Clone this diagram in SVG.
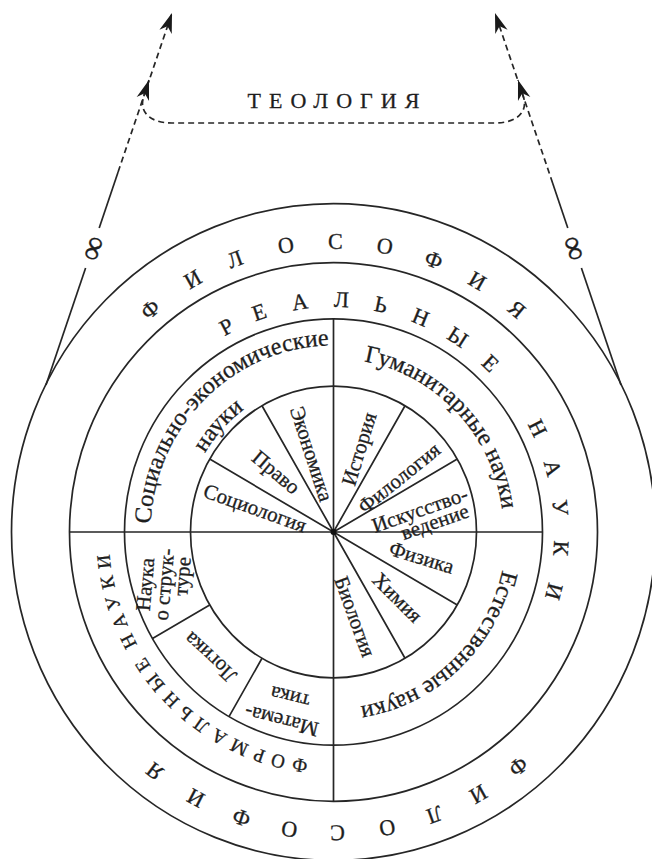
<svg xmlns="http://www.w3.org/2000/svg" width="652" height="859" viewBox="0 0 652 859">
<style>
.ln{fill:none;stroke:#262626;stroke-width:1.7}
.ds{fill:none;stroke:#262626;stroke-width:1.7;stroke-dasharray:6 4}
.t{font-family:"Liberation Serif","Times New Roman",serif;fill:#1e1e1e;stroke:#1e1e1e;stroke-width:0.3}
.cap{font-size:22px;text-anchor:middle}
.rn{font-size:22px;text-anchor:middle}
.lbl{font-size:24px;text-anchor:middle}
.in{font-size:21px;text-anchor:middle}
.inE{font-size:21px;text-anchor:end}
.fm{font-size:19px;text-anchor:middle;letter-spacing:7px;word-spacing:-5px}
</style>
<defs>
<marker id="ah" viewBox="-21 -7 22 14" refX="0" refY="0" markerWidth="22" markerHeight="14" markerUnits="userSpaceOnUse" orient="auto-start-reverse">
<path d="M0,0 L-20,-6.5 L-14,0 L-20,6.5 Z" fill="#1a1a1a"/>
</marker>
<path id="p183" d="M-183,0A183,183 0 1 1 183,0A183,183 0 1 1 -183,0"/>
<path id="p150" d="M-150,0A150,150 0 1 1 150,0A150,150 0 1 1 -150,0"/>
<path id="p170" d="M0,-170A170,170 0 1 1 0,170A170,170 0 1 1 0,-170"/>
<path id="p173" d="M173,0A173,173 0 1 1 -173,0A173,173 0 1 1 173,0"/>
<path id="p225" d="M0,225A225,225 0 1 1 0,-225A225,225 0 1 1 0,225"/>
</defs>
<rect width="652" height="859" fill="#fff"/>

<g id="connectors">
<line class="ln" x1="46" y1="385" x2="85.6" y2="268"/>
<line class="ln" x1="99.2" y1="228" x2="118.1" y2="172"/>
<line class="ds" x1="118.1" y1="172" x2="172" y2="13" marker-end="url(#ah)"/>
<line class="ln" x1="621" y1="385" x2="581.4" y2="268"/>
<line class="ln" x1="567.8" y1="228" x2="552.6" y2="183"/>
<line class="ds" x1="552.6" y1="183" x2="495" y2="13" marker-end="url(#ah)"/>
<path class="ds" d="M149,80 L143.5,97 C139,112 150,123 172,123 L495,123 C517,123 528,112 523.5,97 L518,80" marker-start="url(#ah)" marker-end="url(#ah)"/>
</g>

<g id="infinity">
<text class="t" font-size="34" text-anchor="middle" dominant-baseline="central" transform="translate(92,248) rotate(-71)">∞</text>
<text class="t" font-size="34" text-anchor="middle" dominant-baseline="central" transform="translate(575,248) rotate(71)">∞</text>
</g>

<g id="theology">
<text class="t" font-size="22" letter-spacing="8" text-anchor="middle" x="337.5" y="108">ТЕОЛОГИЯ</text>
</g>

<g id="wheel" transform="translate(333.5,532) scale(1,1.02)">
<g id="rings">
<circle class="ln" r="322"/>
<circle class="ln" r="264"/>
<circle class="ln" r="209"/>
<circle class="ln" r="143"/>
<path class="ln" d="M-264,0H0M0,0H209M0,0V-209M0,0V264"/>
<path class="ln" d="M0,0L-71.5,-123.8M0,0L-123.8,-71.5M0,0L71.5,-123.8M0,0L123.8,-71.5M0,0L123.8,71.5M0,0L71.5,123.8"/>
<path class="ln" d="M-123.8,71.5L-181,104.5M-71.5,123.8L-104.5,181"/>
<circle r="3" fill="#111"/>
</g>

<g id="philosophy" class="t cap">
<text transform="rotate(-40)" y="-277.7">Ф</text>
<text transform="rotate(-29.6)" y="-277.7">И</text>
<text transform="rotate(-20.2)" y="-277.7">Л</text>
<text transform="rotate(-9.6)" y="-277.7">О</text>
<text transform="rotate(0.4)" y="-277.7">С</text>
<text transform="rotate(10.4)" y="-277.7">О</text>
<text transform="rotate(20.6)" y="-277.7">Ф</text>
<text transform="rotate(30.3)" y="-277.7">И</text>
<text transform="rotate(40)" y="-277.7">Я</text>
<text transform="rotate(141.2)" y="-287.7">Ф</text>
<text transform="rotate(150.6)" y="-287.7">И</text>
<text transform="rotate(160)" y="-287.7">Л</text>
<text transform="rotate(169.5)" y="-287.7">О</text>
<text transform="rotate(179.2)" y="-287.7">С</text>
<text transform="rotate(188.6)" y="-287.7">О</text>
<text transform="rotate(198.2)" y="-287.7">Ф</text>
<text transform="rotate(207.8)" y="-287.7">И</text>
<text transform="rotate(217.3)" y="-287.7">Я</text>
</g>

<g id="real-sciences" class="t rn">
<text transform="rotate(-28)" y="-220.7">Р</text>
<text transform="rotate(-19)" y="-220.7">Е</text>
<text transform="rotate(-8.5)" y="-220.7">А</text>
<text transform="rotate(2)" y="-220.7">Л</text>
<text transform="rotate(12)" y="-220.7">Ь</text>
<text transform="rotate(22.5)" y="-220.7">Н</text>
<text transform="rotate(33)" y="-220.7">Ы</text>
<text transform="rotate(43.5)" y="-220.7">Е</text>
<text transform="rotate(63.5)" y="-220.7">Н</text>
<text transform="rotate(74)" y="-220.7">А</text>
<text transform="rotate(84)" y="-220.7">У</text>
<text transform="rotate(94)" y="-220.7">К</text>
<text transform="rotate(104.8)" y="-220.7">И</text>
</g>

<g id="formal-sciences">
<text class="t fm"><textPath href="#p225" startOffset="182">ФОРМАЛЬНЫЕ НАУКИ</textPath></text>
</g>

<g id="socio-economic">
<text class="t lbl"><textPath href="#p183" startOffset="145.3">Социально-экономические</textPath></text>
<text class="t lbl"><textPath href="#p150" startOffset="110.5">науки</textPath></text>
</g>
<g id="humanities">
<text class="t lbl"><textPath href="#p170" startOffset="137.7">Гуманитарные науки</textPath></text>
</g>
<g id="natural">
<text class="t lbl"><textPath href="#p173" startOffset="141.2">Естественные науки</textPath></text>
</g>
</g>

<g id="sociology"><text class="t in" transform="translate(252.7,514.6) rotate(19.6)">Социология</text></g>
<g id="law"><text class="t in" transform="translate(271.7,477.5) rotate(40)">Право</text></g>
<g id="economics"><text class="t in" transform="translate(305,456) rotate(72)">Экономика</text></g>
<g id="history"><text class="t in" transform="translate(365.7,451) rotate(-73)">История</text></g>
<g id="philology"><text class="t in" transform="translate(403.4,483.4) rotate(-39)">Филология</text></g>
<g id="art-studies">
<text class="t inE" transform="translate(469.3,499.6) rotate(-19.5)">Искусство-</text>
<text class="t inE" transform="translate(470.3,516.6) rotate(-19.5)">ведение</text>
</g>
<g id="physics"><text class="t in" transform="translate(419.5,564.2) rotate(17)">Физика</text></g>
<g id="chemistry"><text class="t in" transform="translate(392.5,602.5) rotate(45)">Химия</text></g>
<g id="biology"><text class="t in" transform="translate(348.4,618.9) rotate(70)">Биология</text></g>
<g id="structure-science">
<text class="t in" transform="translate(152,585) rotate(-85)">Наука</text>
<text class="t in" transform="translate(171,585) rotate(-85)">о струк-</text>
<text class="t in" transform="translate(189,577) rotate(-85)">туре</text>
</g>
<g id="logic"><text class="t in" transform="translate(214.8,652.4) rotate(-137)">Логика</text></g>
<g id="mathematics">
<text class="t in" transform="translate(283.2,714.2) rotate(-166)">Матема-</text>
<text class="t in" transform="translate(291.7,690.7) rotate(-166)">тика</text>
</g>
</svg>
